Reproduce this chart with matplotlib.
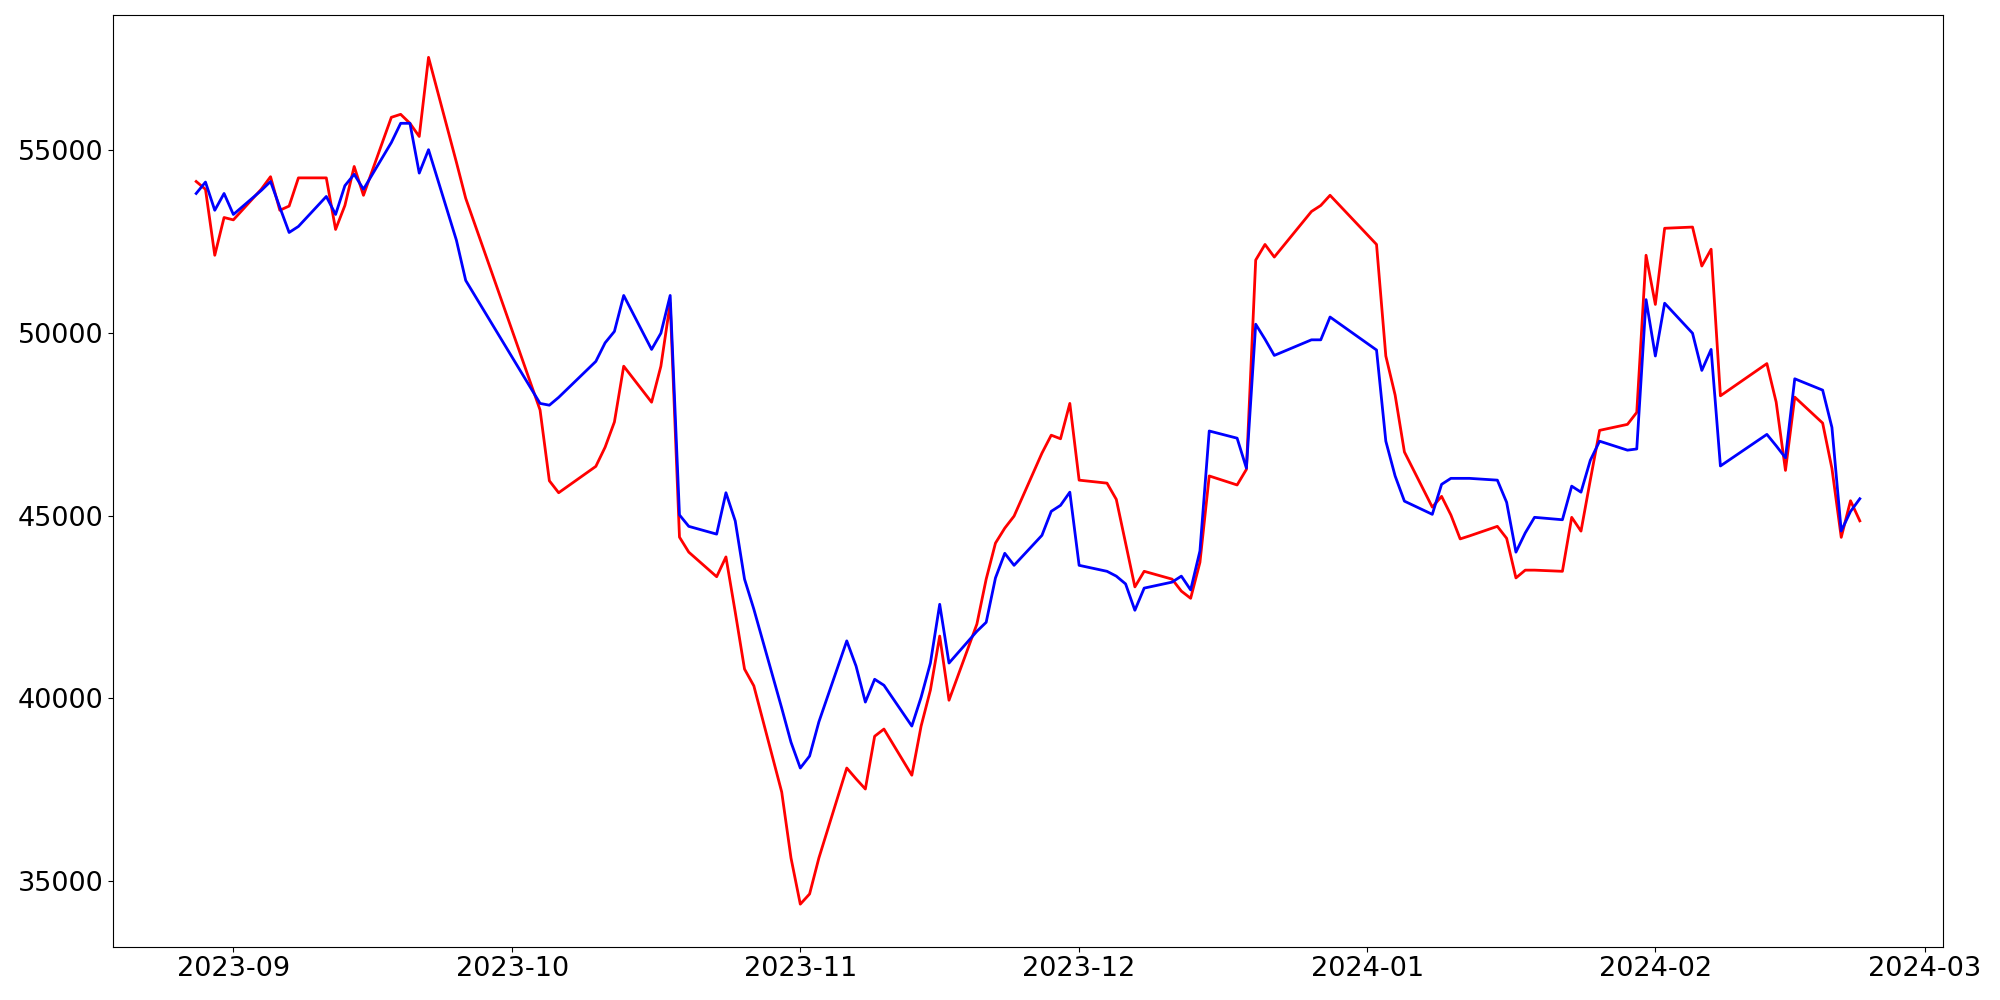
import matplotlib
matplotlib.use("Agg")
import matplotlib.pyplot as plt
import pandas as pd

dates = [
    "2023-08-28", "2023-08-29", "2023-08-30", "2023-08-31", "2023-09-01",
    "2023-09-04", "2023-09-05", "2023-09-06", "2023-09-07", "2023-09-08",
    "2023-09-11", "2023-09-12", "2023-09-13", "2023-09-14", "2023-09-15",
    "2023-09-18", "2023-09-19", "2023-09-20", "2023-09-21", "2023-09-22",
    "2023-09-25", "2023-09-26",
    "2023-10-04", "2023-10-05", "2023-10-06",
    "2023-10-10", "2023-10-11", "2023-10-12", "2023-10-13",
    "2023-10-16", "2023-10-17", "2023-10-18", "2023-10-19", "2023-10-20",
    "2023-10-23", "2023-10-24", "2023-10-25", "2023-10-26", "2023-10-27",
    "2023-10-30", "2023-10-31", "2023-11-01", "2023-11-02", "2023-11-03",
    "2023-11-06", "2023-11-07", "2023-11-08", "2023-11-09", "2023-11-10",
    "2023-11-13", "2023-11-14", "2023-11-15", "2023-11-16", "2023-11-17",
    "2023-11-20", "2023-11-21", "2023-11-22", "2023-11-23", "2023-11-24",
    "2023-11-27", "2023-11-28", "2023-11-29", "2023-11-30", "2023-12-01",
    "2023-12-04", "2023-12-05", "2023-12-06", "2023-12-07", "2023-12-08",
    "2023-12-11", "2023-12-12", "2023-12-13", "2023-12-14", "2023-12-15",
    "2023-12-18", "2023-12-19", "2023-12-20", "2023-12-21", "2023-12-22",
    "2023-12-26", "2023-12-27", "2023-12-28",
    "2024-01-02", "2024-01-03", "2024-01-04", "2024-01-05",
    "2024-01-08", "2024-01-09", "2024-01-10", "2024-01-11", "2024-01-12",
    "2024-01-15", "2024-01-16", "2024-01-17", "2024-01-18", "2024-01-19",
    "2024-01-22", "2024-01-23", "2024-01-24", "2024-01-25", "2024-01-26",
    "2024-01-29", "2024-01-30", "2024-01-31", "2024-02-01", "2024-02-02",
    "2024-02-05", "2024-02-06", "2024-02-07", "2024-02-08",
    "2024-02-13", "2024-02-14", "2024-02-15", "2024-02-16",
    "2024-02-19", "2024-02-20", "2024-02-21", "2024-02-22", "2024-02-23",
]

red_values = [
    54146, 53933, 52126, 53160, 53095,
    53933, 54277, 53358, 53473, 54245,
    54245, 52833, 53489, 54557, 53768,
    55903, 55985, 55739, 55378, 57545,
    54672, 53686,
    47890, 45952, 45624,
    46346, 46872, 47562, 49089,
    48103, 49089, 50813, 44409, 43998,
    43325, 43867, 42356, 40796, 40337,
    37430, 35624, 34360, 34639, 35624,
    38087, 37791, 37512, 38957, 39154,
    37890, 39236, 40222, 41700, 39943,
    42028, 43259, 44245, 44655, 44984,
    46708, 47200, 47102, 48070, 45969,
    45887, 45443, 44245, 43046, 43473,
    43259, 42931, 42734, 43719, 46084,
    45837, 46264, 51995, 52422, 52077,
    53325, 53489, 53768,
    52422, 49368, 48300, 46741,
    45230, 45525, 45016, 44360, 44442,
    44704, 44376, 43292, 43505, 43505,
    43473, 44951, 44573, 45969, 47332,
    47496, 47824, 52126, 50780, 52865,
    52898, 51831, 52291, 48278,
    49160, 48105, 46236, 48242,
    47532, 46288, 44403, 45405, 44854,
]

blue_values = [
    53818, 54130, 53358, 53818, 53243,
    53900, 54146, 53440, 52750, 52915,
    53736, 53243, 54031, 54343, 53933,
    55213, 55739, 55739, 54376, 55016,
    52537, 51437,
    48070, 48021, 48235,
    49220, 49729, 50041, 51026,
    49548, 49992, 51026, 45016, 44704,
    44491, 45624, 44852, 43259, 42438,
    39729, 38793, 38087, 38415, 39351,
    41568, 40878, 39893, 40517, 40353,
    39236, 40025, 40961, 42570, 40961,
    41831, 42077, 43292, 43966, 43637,
    44458, 45115, 45279, 45640, 43637,
    43473, 43341, 43128, 42406, 43013,
    43177, 43341, 42964, 44031, 47315,
    47118, 46297, 50238, 49828, 49384,
    49811, 49811, 50435,
    49532, 47036, 46084, 45394,
    45033, 45854, 46018, 46018, 46018,
    45969, 45361, 43998, 44524, 44951,
    44885, 45805, 45640, 46511, 47036,
    46790, 46823, 50911, 49368, 50813,
    49992, 48974, 49548, 46357,
    47222, 46910, 46581, 48744,
    48434, 47412, 44578, 45112, 45460,
]

x = pd.to_datetime(dates)

fig, ax = plt.subplots(figsize=(20, 10), dpi=100)
ax.plot(x, red_values, color="red", linewidth=2)
ax.plot(x, blue_values, color="blue", linewidth=2)
ax.tick_params(axis="both", labelsize=19.5)
fig.subplots_adjust(left=0.0565, right=0.9715, bottom=0.0535, top=0.985)
fig.savefig("out.png", dpi=100)
